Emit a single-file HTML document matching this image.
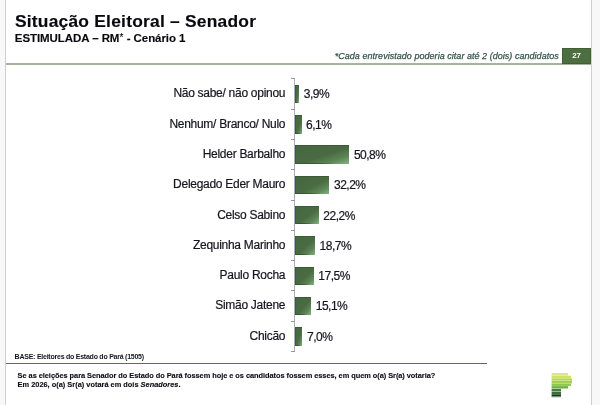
<!DOCTYPE html>
<html><head><meta charset="utf-8"><title>Situação Eleitoral – Senador</title>
<style>
html,body{margin:0;padding:0}
body{width:600px;height:405px;position:relative;overflow:hidden;background:#fff;font-family:"Liberation Sans",sans-serif;color:#15151f}
.lstrip{position:absolute;left:0;top:0;width:5px;height:405px;background:#f8f8f8;border-right:1px solid #d0d0d0}
.rstrip{position:absolute;left:591px;top:0;width:9px;height:405px;background:#f8f8f8;border-left:1px solid #d0d0d0}
.title{position:absolute;left:14.9px;top:10.4px;transform:translateY(0.5px);font-size:17.4px;font-weight:bold;line-height:20px;letter-spacing:0.23px;white-space:nowrap;color:#08080e;-webkit-text-stroke:0.15px #08080e}
.sub{position:absolute;left:14.8px;top:31.2px;font-size:11.5px;font-weight:bold;line-height:14px;letter-spacing:-0.07px;white-space:nowrap;color:#08080e;-webkit-text-stroke:0.12px #08080e}
.sub sup{font-size:10px;font-weight:normal;vertical-align:top;line-height:11px;letter-spacing:0.3px;position:relative;top:1px}
.hline{position:absolute;left:6px;top:63.2px;width:585px;height:1.6px;background:#a6b39e}
.note{position:absolute;right:41.2px;top:50.5px;font-size:9px;font-style:italic;letter-spacing:0.035px;-webkit-text-stroke:0.25px #35554a;color:#35554a;line-height:10px;white-space:nowrap}
.pg{position:absolute;left:562.2px;top:48px;width:28.8px;height:15.6px;box-sizing:border-box;border:1px solid #3f6035;background:#4d6f40;color:#fff;font-size:7.8px;font-weight:bold;text-align:center;line-height:14px;padding-top:0.4px}
.lab{position:absolute;right:314.8px;font-size:12px;line-height:18px;letter-spacing:-0.28px;white-space:nowrap;text-align:right;-webkit-text-stroke:0.2px #15151f}
.val{position:absolute;font-size:12px;line-height:18px;letter-spacing:-0.5px;white-space:nowrap;-webkit-text-stroke:0.2px #15151f}
.bar{position:absolute;left:295.0px;height:18.5px;background:linear-gradient(#3b5c33,#3b5c33) top left/100% 1px no-repeat,linear-gradient(#3b5c33,#3b5c33) top left/1px 100% no-repeat,linear-gradient(to right,#37572f 0%,#37572f 35%,rgba(55,87,47,0) 75%) bottom left/100% 1px no-repeat,linear-gradient(to bottom right,#456741 0%,#4a6b42 55%,#5d8557 78%,#86b583 100%)}
.axis{position:absolute;left:294.0px;top:78.8px;width:1px;height:272.7px;background:#acaeba}
.tick{position:absolute;left:291.0px;width:4px;height:1px;background:#96969e}
.base{position:absolute;left:14.6px;top:351.6px;font-size:7px;font-weight:bold;line-height:10px;letter-spacing:-0.24px;white-space:nowrap}
.bline{position:absolute;left:6px;top:362.7px;width:480.7px;height:1px;background:#4f7a3a}
.q{position:absolute;left:17.6px;top:371.9px;font-size:7.4px;font-weight:bold;line-height:8.9px;letter-spacing:-0.04px;-webkit-text-stroke:0.12px #0c0c14;white-space:nowrap;color:#0c0c14}
.logo{position:absolute;left:551px;top:373px;overflow:visible}
</style></head><body>
<div class="lstrip"></div><div class="rstrip"></div>
<div class="title">Situação Eleitoral – Senador</div>
<div class="sub">ESTIMULADA – RM<sup>*</sup> - Cenário 1</div>
<div class="note">*Cada entrevistado poderia citar até 2 (dois) candidatos</div>
<div class="hline"></div>
<div class="pg">27</div>
<div class="axis"></div>
<div class="lab" style="top:84px">Não sabe/ não opinou</div>
<div class="bar" style="top:84.70px;width:4.17px"></div>
<div class="val" style="top:85px;left:303.77px">3,9%</div>
<div class="lab" style="top:115px">Nenhum/ Branco/ Nulo</div>
<div class="bar" style="top:115.00px;width:6.52px"></div>
<div class="val" style="top:116px;left:306.12px">6,1%</div>
<div class="lab" style="top:145px">Helder Barbalho</div>
<div class="bar" style="top:145.30px;width:54.30px"></div>
<div class="val" style="top:146px;left:353.90px">50,8%</div>
<div class="lab" style="top:175px">Delegado Eder Mauro</div>
<div class="bar" style="top:175.60px;width:34.42px"></div>
<div class="val" style="top:176px;left:334.02px">32,2%</div>
<div class="lab" style="top:206px">Celso Sabino</div>
<div class="bar" style="top:205.90px;width:23.73px"></div>
<div class="val" style="top:207px;left:323.33px">22,2%</div>
<div class="lab" style="top:236px">Zequinha Marinho</div>
<div class="bar" style="top:236.20px;width:19.99px"></div>
<div class="val" style="top:237px;left:319.59px">18,7%</div>
<div class="lab" style="top:266px">Paulo Rocha</div>
<div class="bar" style="top:266.50px;width:18.71px"></div>
<div class="val" style="top:267px;left:318.31px">17,5%</div>
<div class="lab" style="top:296px">Simão Jatene</div>
<div class="bar" style="top:296.80px;width:16.14px"></div>
<div class="val" style="top:297px;left:315.74px">15,1%</div>
<div class="lab" style="top:327px">Chicão</div>
<div class="bar" style="top:327.10px;width:7.48px"></div>
<div class="val" style="top:328px;left:307.08px">7,0%</div>
<div class="tick" style="top:78.30px"></div>
<div class="tick" style="top:108.60px"></div>
<div class="tick" style="top:138.90px"></div>
<div class="tick" style="top:169.20px"></div>
<div class="tick" style="top:199.50px"></div>
<div class="tick" style="top:229.80px"></div>
<div class="tick" style="top:260.10px"></div>
<div class="tick" style="top:290.40px"></div>
<div class="tick" style="top:320.70px"></div>
<div class="tick" style="top:351.00px"></div>
<div class="base">BASE: Eleitores do Estado do Pará (1505)</div>
<div class="bline"></div>
<div class="q">Se as eleições para Senador do Estado do Pará fossem hoje e os candidatos fossem esses, em quem o(a) Sr(a) votaria?<br><span style="letter-spacing:0.005px">Em 2026, o(a) Sr(a) votará em dois <i>Senadores</i>.</span></div>
<svg class="logo" width="23" height="26" viewBox="0 0 23 26"><g transform="translate(0.6,0.1)">
<rect x="0" y="0" width="16.4" height="2.4" fill="#dbe391"/>
<rect x="0" y="2.6" width="19.4" height="2.4" fill="#cfe35c"/>
<rect x="0" y="5.2" width="20.4" height="2.4" fill="#bcd957"/>
<rect x="0" y="7.8" width="20.4" height="2.4" fill="#a3cf52"/>
<rect x="0" y="10.4" width="19.4" height="2.4" fill="#8cc94a"/>
<rect x="0" y="13" width="16.4" height="2.4" fill="#6fb242"/>
<rect x="0" y="15.8" width="9.4" height="2.4" fill="#4c7c3c"/>
<rect x="0" y="18.6" width="9.4" height="2.4" fill="#3c6c36"/>
<rect x="0" y="21.2" width="9.4" height="2.4" fill="#0f3b1d"/>
<rect x="0" y="23.6" width="9.4" height="1" fill="#c9d8c9"/>
</g></svg>
</body></html>
